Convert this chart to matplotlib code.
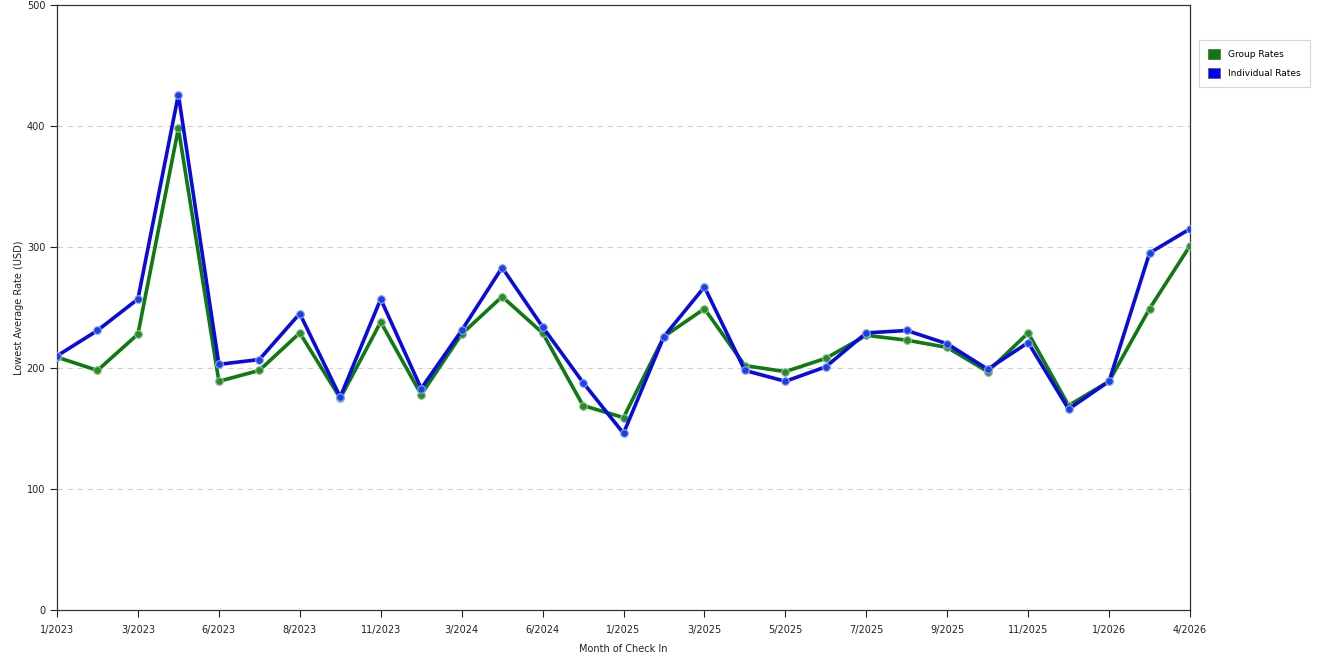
import matplotlib
matplotlib.use("Agg")
import matplotlib.pyplot as plt
import matplotlib.patches as mpatches

months = ["1/2023", "2/2023", "3/2023", "5/2023", "6/2023", "7/2023", "8/2023", "10/2023",
          "11/2023", "12/2023", "3/2024", "4/2024", "6/2024", "10/2024", "1/2025", "2/2025",
          "3/2025", "4/2025", "5/2025", "6/2025", "7/2025", "8/2025", "9/2025", "10/2025",
          "11/2025", "12/2025", "1/2026", "2/2026", "4/2026"]
group_rates = [209, 198, 228, 398, 189, 198, 229, 175, 238, 178, 228, 259, 229, 169, 159,
               226, 249, 202, 197, 208, 227, 223, 217, 197, 229, 169, 189, 249, 301]
indiv_rates = [210, 231, 257, 426, 203, 207, 245, 176, 257, 183, 231, 283, 234, 188, 146,
               226, 267, 198, 189, 201, 229, 231, 220, 199, 221, 166, 189, 295, 315]
labeled = [0, 2, 4, 6, 8, 10, 12, 14, 16, 18, 20, 22, 24, 26, 28]

green = "#0f7a0f"
blue = "#0a0ae0"

fig = plt.figure(figsize=(13.2, 6.6), dpi=100)
ax = fig.add_axes([57/1320, 50/660, 1133/1320, 605/660])

x = list(range(len(months)))
ax.plot(x, group_rates, color=green, linewidth=2.6, zorder=3,
        marker="o", markersize=5.5, markerfacecolor="#2a8a2a", markeredgecolor="#8fc08f",
        markeredgewidth=0.8)
ax.plot(x, indiv_rates, color=blue, linewidth=2.6, zorder=4,
        marker="o", markersize=5.5, markerfacecolor="#1a40e8", markeredgecolor="#8fa8f0",
        markeredgewidth=0.8)

ax.set_xlim(0, len(months) - 1)
ax.set_ylim(0, 500)
ax.set_xticks(labeled)
ax.set_xticklabels([months[i] for i in labeled])
ax.set_yticks([0, 100, 200, 300, 400, 500])
ax.tick_params(axis="both", direction="out", length=5, width=0.8, labelsize=7, colors="#222222")
ax.tick_params(axis="x", pad=6)

for y in [100, 200, 300, 400]:
    ax.axhline(y, color="#d0d0d0", linestyle=(0, (5, 4)), linewidth=0.8, zorder=1)

for s in ax.spines.values():
    s.set_color("#333333")
    s.set_linewidth(0.9)

ax.set_xlabel("Month of Check In", fontsize=7, color="#222222", labelpad=6)
ax.set_ylabel("Lowest Average Rate (USD)", fontsize=7, color="#222222")
ax.yaxis.set_label_coords(-33/1133, 0.5)

handles = [mpatches.Patch(facecolor="#0a7a0a", edgecolor="#555555", linewidth=0.5, label="Group Rates"),
           mpatches.Patch(facecolor="#0000ff", edgecolor="#555555", linewidth=0.5, label="Individual Rates")]
leg = fig.legend(handles=handles, loc="upper left", bbox_to_anchor=(1199/1320, 1 - 40/660),
                 borderaxespad=0, fontsize=6.5, frameon=True, fancybox=False,
                 handlelength=1.35, handleheight=1.35, borderpad=1.0, labelspacing=0.95,
                 handletextpad=0.9)
leg.get_frame().set_edgecolor("#cccccc")
leg.get_frame().set_linewidth(0.8)

fig.savefig("out.png", dpi=100)
